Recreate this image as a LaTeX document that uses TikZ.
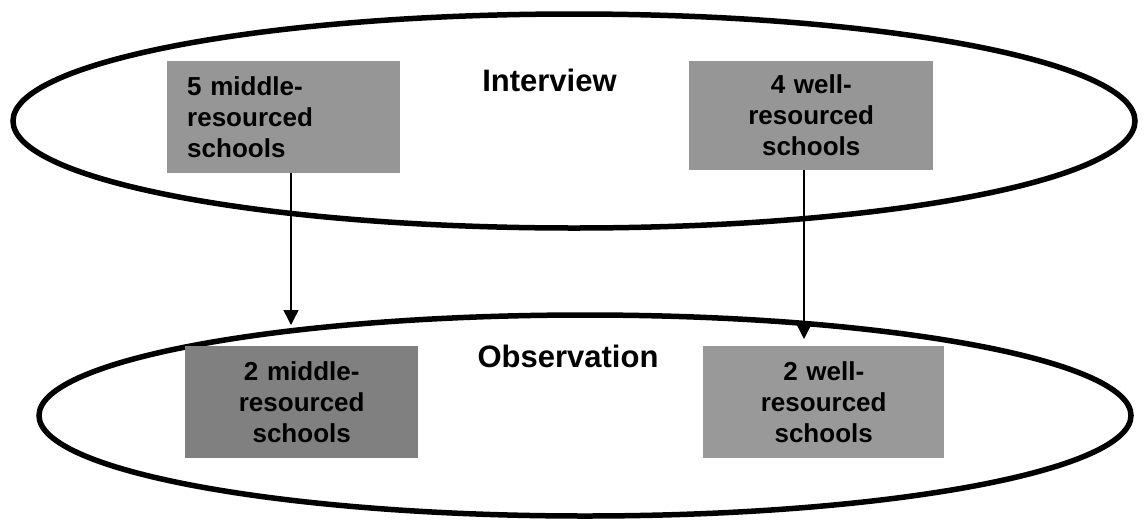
\documentclass[tikz,border=0pt]{standalone}
\usepackage{fontspec}
\setmainfont{Liberation Sans}
\usetikzlibrary{arrows.meta}
\definecolor{boxlight}{RGB}{150,150,150}
\definecolor{boxdark}{RGB}{128,128,128}
\definecolor{boxmid}{RGB}{153,153,153}
\begin{document}
\begin{tikzpicture}[x=1pt,y=-1pt,
  ring/.style={line width=5.5pt},
  schoolbox/.style={rectangle, inner xsep=12pt, inner ysep=0pt, anchor=north west,
    font=\bfseries\fontsize{26}{31}\selectfont, text=black, align=center},
  title/.style={anchor=base, font=\bfseries\fontsize{31}{37}\selectfont},
  arr/.style={line width=1.5pt, -{Triangle[width=15pt,length=15pt]}}]
\useasboundingbox (0,0) rectangle (1146,523);
% ellipses
\draw[ring] (574,121) ellipse [x radius=561, y radius=107];
\draw[ring] (585,415.5) ellipse [x radius=546, y radius=100.5];
% boxes
\node[schoolbox, fill=boxlight, inner xsep=20pt, text width=193pt, minimum height=112pt, align=left] (tl) at (167,61)
  {5 middle-\\resourced\\schools};
\node[schoolbox, fill=boxlight, text width=220pt, minimum height=109pt] (tr) at (689,61)
  {4 well-\\resourced\\schools};
\node[schoolbox, fill=boxdark, text width=209pt, minimum height=112pt] (bl) at (185,346)
  {2 middle-\\resourced\\schools};
\node[schoolbox, fill=boxmid, text width=217pt, minimum height=112pt] (br) at (703,346)
  {2 well-\\resourced\\schools};
% titles
\node[title] (interview) at (549.5,91) {Interview};
\node[title] (observation) at (568,367) {Observation};
% arrows
\coordinate (lt) at (291,325);
\coordinate (rt) at (804,339);
\draw[arr] (tl.south -| lt) -- (lt);
\draw[arr] (tr.south -| rt) -- (rt);
\end{tikzpicture}
\end{document}
